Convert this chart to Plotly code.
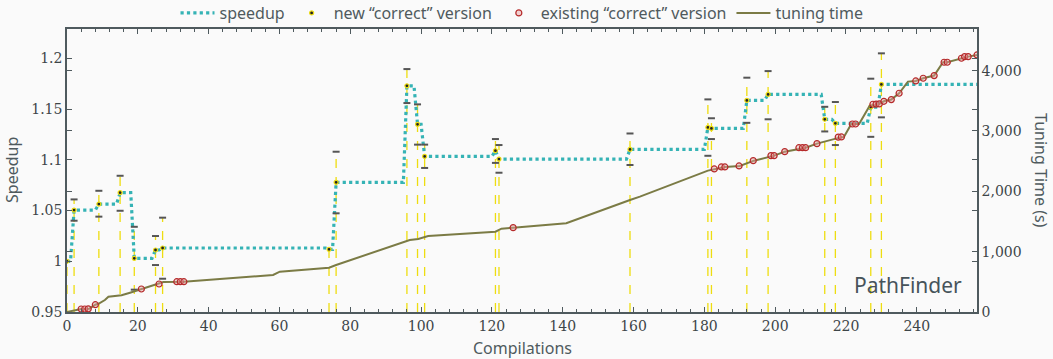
import plotly.graph_objects as go

# ---------------- data ----------------
# new "correct" versions: compilation index, speedup, error-bar top, error-bar bottom
new_x = [0, 2, 9, 15, 19, 25, 27, 74, 76, 96, 99, 101, 121, 122, 159, 181, 182, 192, 198, 214, 217, 227, 230]
new_speedup = [1.000, 1.0505, 1.0564, 1.0676, 1.0029, 1.0111, 1.0131, 1.0118, 1.0778, 1.173, 1.135, 1.1034,
               1.109, 1.1008, 1.1103, 1.132, 1.131, 1.1586, 1.1645, 1.140, 1.136, 1.152, 1.1744]
err_hi = [1.000, 1.061, 1.0695, 1.0843, 1.034, 1.0249, 1.043, 1.0118, 1.108, 1.1895, 1.1547, 1.115,
          1.1205, 1.1146, 1.126, 1.1596, 1.141, 1.181, 1.1875, 1.1523, 1.157, 1.180, 1.205]
err_lo = [1.000, 1.040, 1.044, 1.0498, 0.972, 0.9963, 0.9828, 1.0118, 1.0473, 1.156, 1.115, 1.092,
          1.097, 1.0873, 1.0949, 1.104, 1.1205, 1.1365, 1.140, 1.128, 1.1146, 1.1227, 1.1419]
last_compilation = 257

# tuning time curve (s)
tt_x = [0, 4, 6.3, 8, 9, 10.7, 11.7, 15.4, 17.8, 21, 26, 27.2, 33, 58.2, 60.1, 74, 76, 80.8, 96.8, 99.2, 102,
        121, 122.7, 126, 141, 159, 161.8, 181, 183, 185.8, 190, 194, 199.7, 202.7, 208.6, 211.8, 218.7, 219.4,
        221.5, 223.7, 226.7, 229.3, 230.7, 232.8, 235, 237.5, 239.7, 241.8, 244.9, 247.4, 248.6, 252.6,
        254.5, 257]
tt_y = [0, 50, 55, 121, 140, 199, 254, 277, 320, 381, 464, 497, 502, 613, 668, 734, 779, 873, 1193, 1210, 1260,
        1331, 1381, 1398, 1470, 1857, 1912, 2343, 2371, 2404, 2420, 2508, 2591, 2657, 2723, 2790, 2898, 2901,
        3116, 3116, 3420, 3445, 3492, 3520, 3625, 3818, 3829, 3874, 3918, 4139, 4139, 4205, 4232, 4260]

# existing "correct" versions (on the tuning-time curve)
ex_x = [4, 5, 6, 8, 21, 26, 31, 32, 33, 126, 182.8, 184.8, 185.8, 189.8, 193.8, 198.8, 199.7, 202.7,
        206.7, 207.7, 208.6, 211.8, 217.8, 218.7, 221.8, 222.7, 227.6, 228.5, 229.4, 230.7, 232.8, 235,
        239.7, 241.8, 244.9, 247.7, 248.6, 252.6, 253.5, 254.5, 257]
ex_y = [50, 50, 52, 121, 381, 464, 502, 502, 502, 1398, 2371, 2404, 2404, 2420, 2508, 2591, 2591, 2657,
        2723, 2723, 2723, 2790, 2898, 2901, 3116, 3116, 3443, 3445, 3448, 3492, 3520, 3625,
        3829, 3874, 3918, 4139, 4139, 4205, 4232, 4232, 4260]

x_ticks = list(range(0, 241, 20))
y_ticks = [0.95, 1.0, 1.05, 1.1, 1.15, 1.2]
y_tick_labels = ["0.95", "1", "1.05", "1.1", "1.15", "1.2"]
y2_ticks = [0, 1000, 2000, 3000, 4000]
y2_tick_labels = ["0", "1,000", "2,000", "3,000", "4,000"]

# ---------------- styles ----------------
BG = "#fafafa"
AX = "#4f5a5e"
TEAL = "#35b3b5"
YEL = "#eedd10"
OLIVE = "#7b7b45"
RED = "#b52a2a"
SANS = "Noto Sans"
SERIF = "DejaVu Serif"
Y_MIN, Y_MAX = 0.95, 1.229
Y2_MAX = 4690

# speedup step line built from new versions (1-compilation ramps)
sp_x, sp_y = [new_x[0]], [new_speedup[0]]
for i in range(1, len(new_x)):
    sp_x += [new_x[i] - 1, new_x[i]]
    sp_y += [new_speedup[i - 1], new_speedup[i]]
sp_x.append(last_compilation)
sp_y.append(new_speedup[-1])

# dashed drop lines from axis to top of error bar
dl_x, dl_y = [], []
for x, h in zip(new_x, err_hi):
    dl_x += [x, x, None]
    dl_y += [Y_MIN, h, None]

cap_x, cap_y = [], []
for x, s, h, l in zip(new_x, new_speedup, err_hi, err_lo):
    if h != s:
        cap_x += [x, x]
        cap_y += [h, l]

fig = go.Figure()
fig.add_trace(go.Scatter(x=dl_x, y=dl_y, mode="lines", line=dict(color=YEL, width=1.3, dash="dash"),
                         showlegend=False, hoverinfo="skip"))
fig.add_trace(go.Scatter(x=sp_x, y=sp_y, mode="lines", name="speedup", legendrank=1,
                         line=dict(color=TEAL, width=3.2, dash="dot")))
fig.add_trace(go.Scatter(x=cap_x, y=cap_y, mode="markers", showlegend=False,
                         marker=dict(symbol="line-ew", size=5, line=dict(color="#555555", width=2))))
fig.add_trace(go.Scatter(x=new_x, y=new_speedup, mode="markers", name="new “correct” version", legendrank=2,
                         marker=dict(symbol="circle", size=4, color="#222222", line=dict(color=YEL, width=1.2))))
fig.add_trace(go.Scatter(x=tt_x, y=tt_y, mode="lines", name="tuning time", yaxis="y2", legendrank=4,
                         line=dict(color=OLIVE, width=2)))
fig.add_trace(go.Scatter(x=ex_x, y=ex_y, mode="markers", name="existing “correct” version", yaxis="y2",
                         legendrank=3,
                         marker=dict(symbol="circle", size=6, color="rgba(230,160,160,0.45)",
                                     line=dict(color=RED, width=1.2))))

fig.update_layout(
    width=1053, height=359,
    margin=dict(l=67, r=76, t=29, b=47, autoexpand=False),
    paper_bgcolor=BG, plot_bgcolor=BG,
    font=dict(family=SANS, color=AX),
    showlegend=True,
    legend=dict(orientation="h", x=0.5, xanchor="center", y=1.0565, yanchor="middle",
                font=dict(family=SANS, size=16, color="#505a5e"), bgcolor="rgba(0,0,0,0)",
                itemwidth=34),
    xaxis=dict(range=[0, last_compilation], tickvals=x_ticks, ticks="inside", ticklen=5, tickwidth=1,
               tickcolor=AX, showline=True, linecolor=AX, linewidth=1.5, mirror="ticks",
               showgrid=False, zeroline=False,
               tickfont=dict(family=SERIF, size=14, color="#3d4548"),
               minor=dict(dtick=4, ticks="inside", ticklen=3, tickcolor=AX, showgrid=False)),
    yaxis=dict(range=[Y_MIN, Y_MAX], tickvals=y_ticks, ticktext=y_tick_labels, ticks="inside", ticklen=5,
               tickcolor=AX, showline=True, linecolor=AX, linewidth=1.5, mirror="ticks",
               showgrid=False, zeroline=False,
               tickfont=dict(family=SERIF, size=14, color="#3d4548")),
    yaxis2=dict(range=[0, Y2_MAX], overlaying="y", side="right", tickvals=y2_ticks, ticktext=y2_tick_labels,
                ticks="inside", ticklen=5, tickcolor=AX, showline=True, linecolor=AX, linewidth=1.5,
                mirror="ticks", showgrid=False, zeroline=False,
                tickfont=dict(family=SERIF, size=14, color="#3d4548")),
    annotations=[
        dict(text="Speedup", xref="paper", yref="paper", x=-0.0604, y=0.502, textangle=-90,
             xanchor="center", yanchor="middle",
             showarrow=False, font=dict(family=SANS, size=16, color=AX)),
        dict(text="Tuning Time (s)", xref="paper", yref="paper", x=1.0703, y=0.498, textangle=90,
             xanchor="center", yanchor="middle",
             showarrow=False, font=dict(family=SANS, size=16, color=AX)),
        dict(text="Compilations", xref="paper", yref="paper", x=0.501, y=-0.128,
             xanchor="center", yanchor="middle",
             showarrow=False, font=dict(family=SANS, size=16, color=AX)),
        dict(text="PathFinder", xref="paper", yref="paper", x=0.924, y=0.095,
             xanchor="center", yanchor="middle",
             showarrow=False, font=dict(family=SANS, size=21, color="#46535a")),
    ],
)

# remove the browser's default 8px page margin so the figure sits at the window's corner
fig.write_html("out.html", config={"displayModeBar": False},
               post_script="document.body.style.margin='0px';")
